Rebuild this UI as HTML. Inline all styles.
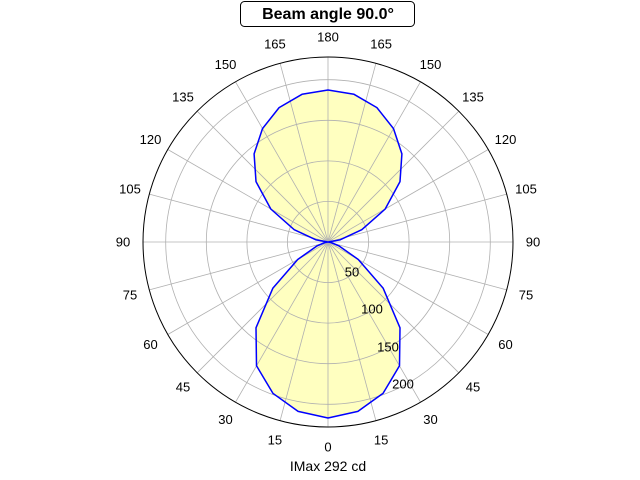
<!DOCTYPE html>
<html><head><meta charset="utf-8"><style>
html,body{margin:0;padding:0;background:#fff;}
svg{display:block;font-family:"Liberation Sans","DejaVu Sans",sans-serif;}
</style></head><body>
<svg width="640" height="480" viewBox="0 0 640 480" xmlns="http://www.w3.org/2000/svg">
<g transform="translate(328,242)">
  <path id="shape" d="M0,176 L29.9,169.4 L55.1,151.3 L71.5,123.8 L72,85.8 L55.2,46.3 L30.3,17.5 L11.3,4.1 L3,0.5 L0,0 L-3,0.5 L-11.3,4.1 L-30.3,17.5 L-55.2,46.3 L-72,85.8 L-71.5,123.8 L-55.1,151.3 L-29.9,169.4 Z M0,-152 L26,-147.7 L48.9,-134.4 L65.5,-113.4 L73.9,-88.1 L72,-60.4 L57.2,-33 L33.8,-12.3 L11.8,-2.1 L0,0 L-11.8,-2.1 L-33.8,-12.3 L-57.2,-33 L-72,-60.4 L-73.9,-88.1 L-65.5,-113.4 L-48.9,-134.4 L-26,-147.7 Z" fill="#ffffc0"/>
  <g stroke="#b0b0b0" stroke-width="0.8" fill="none">
    <circle r="40.6"/><circle r="81.1"/><circle r="121.7"/><circle r="162.3"/>
    <line x1="0" y1="-185" x2="0" y2="185"/>
    <line x1="-185" y1="0" x2="185" y2="0"/>
    <line x1="47.9" y1="178.7" x2="-47.9" y2="-178.7"/>
    <line x1="-47.9" y1="178.7" x2="47.9" y2="-178.7"/>
    <line x1="92.5" y1="160.2" x2="-92.5" y2="-160.2"/>
    <line x1="-92.5" y1="160.2" x2="92.5" y2="-160.2"/>
    <line x1="130.8" y1="130.8" x2="-130.8" y2="-130.8"/>
    <line x1="-130.8" y1="130.8" x2="130.8" y2="-130.8"/>
    <line x1="160.2" y1="92.5" x2="-160.2" y2="-92.5"/>
    <line x1="-160.2" y1="92.5" x2="160.2" y2="-92.5"/>
    <line x1="178.7" y1="47.9" x2="-178.7" y2="-47.9"/>
    <line x1="-178.7" y1="47.9" x2="178.7" y2="-47.9"/>
  </g>
  <path d="M0,176 L29.9,169.4 L55.1,151.3 L71.5,123.8 L72,85.8 L55.2,46.3 L30.3,17.5 L11.3,4.1 L3,0.5 L0,0 L-3,0.5 L-11.3,4.1 L-30.3,17.5 L-55.2,46.3 L-72,85.8 L-71.5,123.8 L-55.1,151.3 L-29.9,169.4 Z M0,-152 L26,-147.7 L48.9,-134.4 L65.5,-113.4 L73.9,-88.1 L72,-60.4 L57.2,-33 L33.8,-12.3 L11.8,-2.1 L0,0 L-11.8,-2.1 L-33.8,-12.3 L-57.2,-33 L-72,-60.4 L-73.9,-88.1 L-65.5,-113.4 L-48.9,-134.4 L-26,-147.7 Z" fill="none" stroke="#0000ff" stroke-width="1.5" stroke-linejoin="round"/>
  <circle r="185" fill="none" stroke="#000" stroke-width="1"/>
  <g font-size="13" fill="#000" text-anchor="middle" dominant-baseline="central">
    <text x="0" y="205">0</text>
    <text x="53.1" y="198">15</text><text x="-53.1" y="198">15</text>
    <text x="102.5" y="177.5">30</text><text x="-102.5" y="177.5">30</text>
    <text x="145" y="145">45</text><text x="-145" y="145">45</text>
    <text x="177.5" y="102.5">60</text><text x="-177.5" y="102.5">60</text>
    <text x="198" y="53.1">75</text><text x="-198" y="53.1">75</text>
    <text x="205" y="0">90</text><text x="-205" y="0">90</text>
    <text x="198" y="-53.1">105</text><text x="-198" y="-53.1">105</text>
    <text x="177.5" y="-102.5">120</text><text x="-177.5" y="-102.5">120</text>
    <text x="145" y="-145">135</text><text x="-145" y="-145">135</text>
    <text x="102.5" y="-177.5">150</text><text x="-102.5" y="-177.5">150</text>
    <text x="53.1" y="-198">165</text><text x="-53.1" y="-198">165</text>
    <text x="0" y="-205">180</text>
    <text x="24" y="30">50</text>
    <text x="44" y="67">100</text>
    <text x="60" y="105">150</text>
    <text x="75" y="142">200</text>
  </g>
</g>
<rect x="240.5" y="1.5" width="174" height="25" rx="4" fill="#fff" stroke="#000" stroke-width="1"/>
<text x="328" y="19" font-size="16" font-weight="bold" text-anchor="middle">Beam angle 90.0°</text>
<text x="328" y="471" font-size="14" text-anchor="middle">IMax 292 cd</text>
</svg>
</body></html>
